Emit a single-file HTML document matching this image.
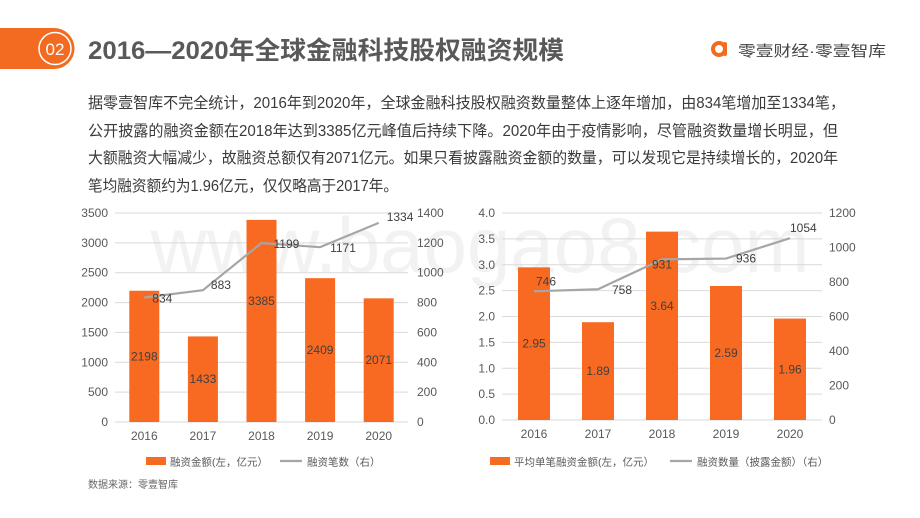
<!DOCTYPE html>
<html><head><meta charset="utf-8"><style>
body{margin:0;width:920px;height:518px;background:#fff;overflow:hidden;font-family:"Liberation Sans","Noto Sans CJK SC",sans-serif}
svg{display:block}
</style></head><body>
<svg id="s" width="920" height="518" viewBox="0 0 920 518" font-family="Liberation Sans, Noto Sans CJK SC, sans-serif">
<text x="480" y="272" font-size="78" fill="#f2f2f2" text-anchor="middle">www.baogao8.com</text>
<path d="M0 28 H54 A20.5 20.5 0 0 1 54 69 H0 Z" fill="#f26b21"/>
<circle cx="55" cy="48.5" r="16" fill="none" stroke="#fff" stroke-width="1.5"/>
<text x="55" y="55" font-size="17" fill="#fff" text-anchor="middle">02</text>
<text x="88" y="59" font-size="25" font-weight="bold" fill="#595959" textLength="476" lengthAdjust="spacingAndGlyphs">2016—2020年全球金融科技股权融资规模</text>
<circle cx="719" cy="49" r="6" fill="none" stroke="#f26b21" stroke-width="4"/>
<rect x="723" y="42" width="4" height="14" rx="2" fill="#f26b21"/>
<text x="738" y="56" font-size="15" fill="#444" textLength="148" lengthAdjust="spacingAndGlyphs">零壹财经·零壹智库</text>
<g font-size="15.5" fill="#3a3a3a">
<text x="88" y="108" textLength="757" lengthAdjust="spacingAndGlyphs">据零壹智库不完全统计，2016年到2020年，全球金融科技股权融资数量整体上逐年增加，由834笔增加至1334笔，</text>
<text x="88" y="136" textLength="750" lengthAdjust="spacingAndGlyphs">公开披露的融资金额在2018年达到3385亿元峰值后持续下降。2020年由于疫情影响，尽管融资数量增长明显，但</text>
<text x="88" y="163" textLength="750" lengthAdjust="spacingAndGlyphs">大额融资大幅减少，故融资总额仅有2071亿元。如果只看披露融资金额的数量，可以发现它是持续增长的，2020年</text>
<text x="88" y="191" textLength="310" lengthAdjust="spacingAndGlyphs">笔均融资额约为1.96亿元，仅仅略高于2017年。</text>
</g>
<g id="c1"></g>
<g id="c2"></g>
<text x="88" y="488" font-size="10" fill="#666">数据来源：零壹智库</text>
</svg>
<script>
const years = ["2016","2017","2018","2019","2020"];
const amounts = [2198,1433,3385,2409,2071];
const deals = [834,883,1199,1171,1334];
const leftTicks1 = [0,500,1000,1500,2000,2500,3000,3500];
const rightTicks1 = [0,200,400,600,800,1000,1200,1400];
const avgAmounts = [2.95,1.89,3.64,2.59,1.96];
const disclosed = [746,758,931,936,1054];
const leftTicks2 = [0,0.5,1.0,1.5,2.0,2.5,3.0,3.5,4.0];
const rightTicks2 = [0,200,400,600,800,1000,1200];
const NS="http://www.w3.org/2000/svg";
function mk(p,tag,a,txt){const e=document.createElementNS(NS,tag);for(const k in a)e.setAttribute(k,a[k]);if(txt!=null)e.textContent=txt;p.appendChild(e);return e;}
function draw(g,cfg){
  const {x0,x1,yTop,yBot,lMax,rMax,lTicks,rTicks,bars,line,dec,labLx,labRx,barW,lineOff,legendX,legBar,legLine,legLineX,legY}=cfg;
  const band=(x1-x0)/years.length;
  const xc=i=>x0+band*(i+0.5);
  const yl=v=>yBot-(v/lMax)*(yBot-yTop);
  const yr=v=>yBot-(v/rMax)*(yBot-yTop);
  lTicks.forEach(t=>{
    const l=mk(g,'line',{x1:x0,x2:x1,y1:yl(t),y2:yl(t),stroke:'#d9d9d9','stroke-width':1});
    
    
    const tx=mk(g,'text',{x:labLx,y:yl(t)+4,'font-size':12,fill:'#595959','text-anchor':'end'},dec?t.toFixed(1):t);
    
    
  });
  rTicks.forEach(t=>{
    const tx=mk(g,'text',{x:labRx,y:yr(t)+4,'font-size':12,fill:'#595959'},t);
    
    
  });
  bars.forEach((v,i)=>{
    const r=mk(g,'rect',{x:xc(i)-barW/2,y:yl(v),width:barW,height:yBot-yl(v),fill:'#f86a21'});
    
    
    const t=mk(g,'text',{x:xc(i),y:(yl(v)+yBot)/2+4+(i==2?-20:0),'font-size':12,fill:'#404040','text-anchor':'middle'},dec?v.toFixed(2):v);
    
    
    const yt=mk(g,'text',{x:xc(i),y:yBot+18,'font-size':12,fill:'#595959','text-anchor':'middle'},years[i]);
    
    
  });
  const pts=line.map((v,i)=>xc(i)+','+yr(v)).join(' ');
  const pl=mk(g,'polyline',{points:pts,fill:'none',stroke:'#a6a6a6','stroke-width':2.2});
  
  
  line.forEach((v,i)=>{
    const o=lineOff[i];
    const t=mk(g,'text',{x:xc(i)+o[0],y:yr(v)+o[1],'font-size':12,fill:'#404040'},v);
    
    
  });
  const lr=mk(g,'rect',{x:legendX,y:legY-5,width:20,height:8,fill:'#f86a21'});
  
  
  const lt=mk(g,'text',{x:legendX+24,y:legY+3.5,'font-size':10.5,fill:'#595959'},legBar);
  
  
  const ll=mk(g,'line',{x1:legLineX,x2:legLineX+22,y1:legY-1,y2:legY-1,stroke:'#a6a6a6','stroke-width':2.2});
  
  
  const lt2=mk(g,'text',{x:legLineX+27,y:legY+3.5,'font-size':10.5,fill:'#595959'},legLine);
  
  
}
draw(document.getElementById('c1'),{x0:115,x1:408,yTop:213,yBot:422,lMax:3500,rMax:1400,lTicks:leftTicks1,rTicks:rightTicks1,bars:amounts,line:deals,dec:false,labLx:108,labRx:417,barW:30,
 lineOff:[[8,5],[8,-1],[12,5],[10,5],[8,-2]],legendX:146,legBar:'融资金额(左，亿元）',legLine:'融资笔数（右）',legLineX:280,legY:462});
draw(document.getElementById('c2'),{x0:502,x1:822,yTop:213,yBot:420,lMax:4,rMax:1200,lTicks:leftTicks2,rTicks:rightTicks2,bars:avgAmounts,line:disclosed,dec:true,labLx:495,labRx:829,barW:32,
 lineOff:[[2,-6],[14,5],[-10,9],[10,4],[0,-6]],legendX:490,legBar:'平均单笔融资金额(左，亿元）',legLine:'融资数量（披露金额）（右）',legLineX:670,legY:462});
</script>
</body></html>
